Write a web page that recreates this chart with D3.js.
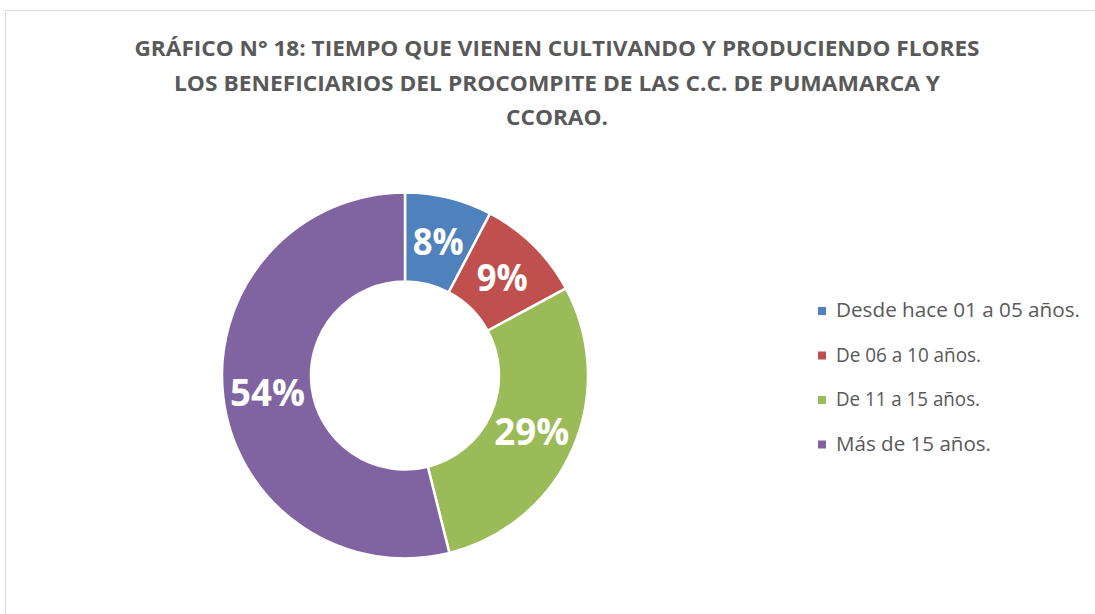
<!DOCTYPE html>
<html>
<head>
<meta charset="utf-8">
<script src="https://cdn.jsdelivr.net/npm/d3@7"></script>
<style>
  body { margin: 0; background: #fff; }
  svg { display: block; }
</style>
</head>
<body>
<svg></svg>
<script>
// data
var categories = ["Desde hace 01 a 05 años.", "De 06 a 10 años.", "De 11 a 15 años.", "Más de 15 años."];
var values = [7.7, 9.4, 29.0, 53.9];
var colors = ["#4F81BD", "#C0504D", "#9BBB59", "#8064A2"];
var titleLines = [
  "GRÁFICO N° 18: TIEMPO QUE VIENEN CULTIVANDO Y PRODUCIENDO FLORES",
  "LOS BENEFICIARIOS DEL PROCOMPITE DE LAS C.C. DE PUMAMARCA Y",
  "CCORAO."
];

var svgWidth = 1095, svgHeight = 614;
var cx = 405, cy = 375.5, outerR = 183, innerR = 94;

var svg = d3.select('svg')
    .attr("width", svgWidth)
    .attr("height", svgHeight);

// chart area border
svg.append("rect")
    .attr("x", 5.5)
    .attr("y", 10.5)
    .attr("width", 1200)
    .attr("height", 700)
    .attr("fill", "none")
    .attr("stroke", "#d9d9d9")
    .attr("stroke-width", 1);

// title
var titleW = [845, 766, 102];
svg.selectAll("text.title")
    .data(titleLines)
    .enter()
    .append("text")
    .attr("class", "title")
    .attr("x", 557)
    .attr("y", function(d, i) { return 56 + i * 34.5; })
    .attr("text-anchor", "middle")
    .attr("font-family", "Open Sans, sans-serif")
    .attr("font-weight", "bold")
    .attr("font-size", 21)
    .attr("fill", "#595959")
    .attr("textLength", function(d, i) { return titleW[i]; })
    .attr("lengthAdjust", "spacingAndGlyphs")
    .text(function(d) { return d; });

var total = d3.sum(values);
var pie = d3.pie().sort(null).value(function(d) { return d; });
var arc = d3.arc().innerRadius(innerR).outerRadius(outerR);

var g = svg.append("g")
    .attr("transform", "translate(" + cx + "," + cy + ")");

g.selectAll("path")
    .data(pie(values))
    .enter()
    .append("path")
    .attr("d", arc)
    .attr("fill", function(d, i) { return colors[i]; })
    .attr("stroke", "#fff")
    .attr("stroke-width", 2.5);

g.selectAll("text.lbl")
    .data(pie(values))
    .enter()
    .append("text")
    .attr("class", "lbl")
    .attr("transform", function(d) { return "translate(" + arc.centroid(d) + ")"; })
    .attr("dy", "0.36em")
    .attr("text-anchor", "middle")
    .attr("font-family", "Open Sans, sans-serif")
    .attr("font-weight", "bold")
    .attr("font-size", 38)
    .attr("fill", "#fff")
    .attr("textLength", function(d) { return Math.round(d.value / total * 100) < 10 ? 51 : 75; })
    .attr("lengthAdjust", "spacingAndGlyphs")
    .text(function(d) { return Math.round(d.value / total * 100) + "%"; });

// legend
var legendW = [244, 145, 144, 155];
var legend = svg.selectAll("g.legend")
    .data(categories)
    .enter()
    .append("g")
    .attr("class", "legend")
    .attr("transform", function(d, i) { return "translate(818," + (316 + i * 44.5) + ")"; });

legend.append("rect")
    .attr("x", 0)
    .attr("y", -9)
    .attr("width", 8)
    .attr("height", 8)
    .attr("fill", function(d, i) { return colors[i]; });

legend.append("text")
    .attr("x", 18)
    .attr("y", 1)
    .attr("font-family", "Open Sans, sans-serif")
    .attr("font-size", 20)
    .attr("fill", "#595959")
    .attr("textLength", function(d, i) { return legendW[i]; })
    .attr("lengthAdjust", "spacingAndGlyphs")
    .text(function(d) { return d; });
</script>
</body>
</html>
